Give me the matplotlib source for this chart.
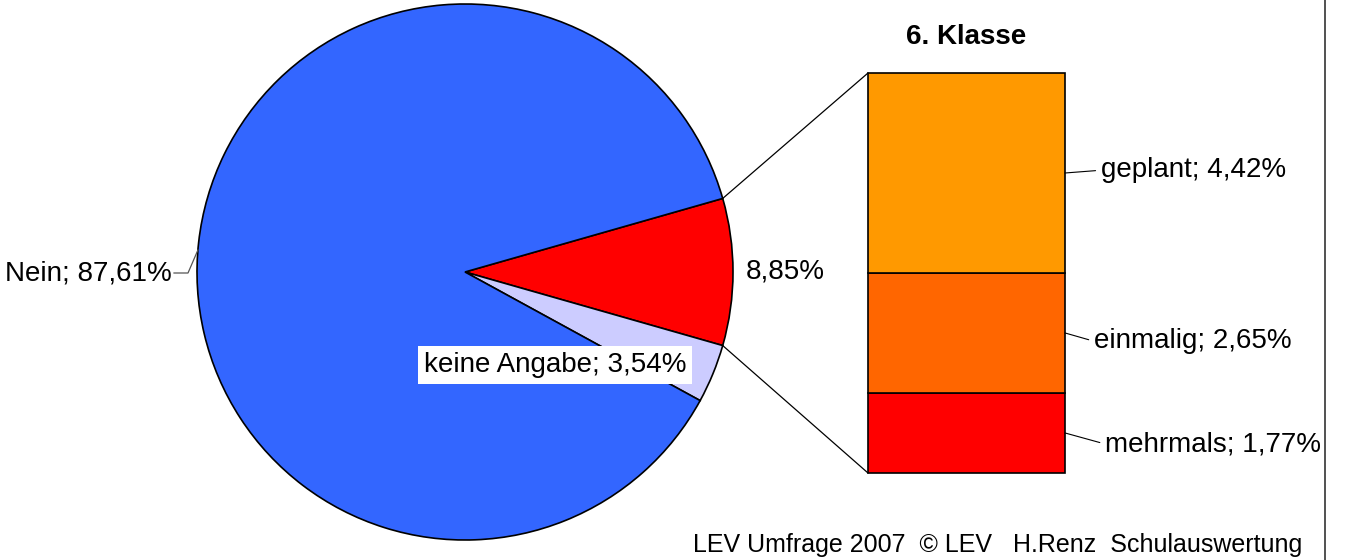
import numpy as np
import matplotlib.pyplot as plt

plt.rcParams['font.family'] = ['Liberation Sans', 'DejaVu Sans']

# Daten Kreisdiagramm
pie_labels = ['', 'keine Angabe', 'Nein']
pie_values = [8.85, 3.54, 87.61]
pie_colors = ['#FF0000', '#CCCCFF', '#3366FF']

# Daten Balken (Aufteilung der 8,85%)
bar_labels = ['mehrmals', 'einmalig', 'geplant']
bar_values = [1.77, 2.65, 4.42]
bar_colors = ['#FF0000', '#FF6600', '#FF9900']

titel = '6. Klasse'
fusszeile = 'LEV Umfrage 2007  © LEV   H.Renz  Schulauswertung'


def proz(v):
    return f'{v:.2f}%'.replace('.', ',')


W, H = 1348, 560
fig = plt.figure(figsize=(W / 100, H / 100), dpi=100)
ax = fig.add_axes([0, 0, 1, 1])

# Kreis
cx, cy, r = 465, 288, 268
halb = pie_values[0] / sum(pie_values) * 360 / 2
ax.pie(pie_values, colors=pie_colors, startangle=halb, counterclock=False,
       center=(cx, cy), radius=r,
       wedgeprops=dict(edgecolor='black', linewidth=1.2))
ax.set_xlim(0, W)
ax.set_ylim(0, H)
ax.set_aspect('equal')
ax.axis('off')

# Beschriftungen Kreis
ax.text(cx + r + 52, cy, proz(pie_values[0]), ha='center', va='center', fontsize=20)
ax.text(555, 195, f'{pie_labels[1]}; {proz(pie_values[1])}',
        ha='center', va='center', fontsize=20,
        bbox=dict(facecolor='white', edgecolor='none', pad=4))
# Nein mit Führungslinie
a = np.deg2rad(175.3)
px, py = cx + r * np.cos(a), cy + r * np.sin(a)
ax.plot([px, 188, 174], [py, 287, 287], color='#555555', lw=0.9)
ax.text(172, 287, f'{pie_labels[2]}; {proz(pie_values[2])}',
        ha='right', va='center', fontsize=20)

# Balken
bx0, by0, bw, bh = 868, 87, 197, 400
bax = fig.add_axes([bx0 / W, by0 / H, bw / W, bh / H])
unten = 0
for lab, val, col in zip(bar_labels, bar_values, bar_colors):
    bax.bar(0, val, bottom=unten, width=1, color=col, edgecolor='black',
            linewidth=1.2, clip_on=False)
    unten += val
bax.set_xlim(-0.5, 0.5)
bax.set_ylim(0, sum(bar_values))
bax.axis('off')

offsets = {'geplant': (26, 2), 'einmalig': (21, -6), 'mehrmals': (29, -8)}
unten = 0
for lab, val in zip(bar_labels, bar_values):
    mitte = unten + val / 2
    unten += val
    bax.annotate(f'{lab}; {proz(val)}', xy=(0.5, mitte),
                 xytext=offsets[lab], textcoords='offset points',
                 ha='left', va='center', fontsize=20,
                 arrowprops=dict(arrowstyle='-', color='black', lw=0.8,
                                 shrinkA=2, shrinkB=0, relpos=(0, 0.5)))

ax.text(bx0 + bw / 2, H - 37, titel, ha='center', va='center',
        fontsize=20, fontweight='bold')

# Verbindungslinien Kreis -> Balken
for s, ybar in [(1, by0 + bh), (-1, by0)]:
    ex = cx + r * np.cos(np.deg2rad(s * halb))
    ey = cy + r * np.sin(np.deg2rad(s * halb))
    ax.plot([ex, bx0], [ey, ybar], color='black', lw=0.9)

# Fusszeile und Rahmenlinie
ax.text(693, 15, fusszeile, ha='left', va='center', fontsize=18)
ax.plot([1325, 1325], [0, H], color='#333333', lw=1.2)

fig.savefig('out.png', dpi=100)
